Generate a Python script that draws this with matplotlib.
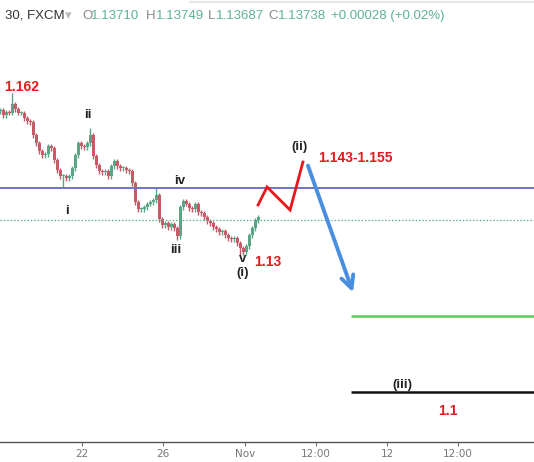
import matplotlib
matplotlib.use("Agg")
import matplotlib.pyplot as plt
import numpy as np

# ---------------- data ----------------
closes = [1.1590, 1.1580, 1.1586, 1.1584, 1.1602, 1.1592, 1.1584, 1.1584, 1.1574, 1.1568,
          1.1566, 1.1540, 1.1524, 1.1508, 1.1500, 1.1502, 1.1518, 1.1514, 1.1490, 1.1470,
          1.1458, 1.1458, 1.1454, 1.1458, 1.1474, 1.1500, 1.1524, 1.1518, 1.1516, 1.1524,
          1.1540, 1.1498, 1.1480, 1.1468, 1.1466, 1.1468, 1.1458, 1.1478, 1.1488, 1.1478,
          1.1474, 1.1474, 1.1470, 1.1468, 1.1444, 1.1406, 1.1392, 1.1392, 1.1396, 1.1402,
          1.1406, 1.1410, 1.1420, 1.1372, 1.1360, 1.1364, 1.1356, 1.1362, 1.1354, 1.1338,
          1.1396, 1.1408, 1.1402, 1.1394, 1.1392, 1.1402, 1.1386, 1.1384, 1.1376, 1.1368,
          1.1364, 1.1356, 1.1352, 1.1346, 1.1348, 1.1340, 1.1334, 1.1332, 1.1334, 1.1324,
          1.1314, 1.1306, 1.1318, 1.1340, 1.1354, 1.1370, 1.1376]
first_open = 1.1588
pivot_wicks = {4: 1.1624, 30: 1.1554, 52: 1.1434, 59: 1.1330, 80: 1.1300, 21: 1.1436}

blue_level = 1.1434
last_price = 1.1370
green_level = 1.1178
black_level = 1.1026

zigzag_x = [12.65, 13.09, 14.22, 14.85]
zigzag_y = [1.1400, 1.1436, 1.1390, 1.1486]
arrow_start = (15.05, 1.1484)
arrow_end = (17.35, 1.1220)
target_start_x = 17.2

tick_pos = [4.02, 7.99, 12.01, 15.49, 18.97, 22.45]
tick_labels = ["22", "26", "Nov", "12:00", "12", "12:00"]

wave_labels = [("1.162", 1.08, 1.1636, "#e3191c"),
               ("ii", 4.31, 1.1580, "#222222"),
               ("i", 3.28, 1.1388, "#222222"),
               ("iv", 8.82, 1.1448, "#222222"),
               ("iii", 8.63, 1.1310, "#222222"),
               ("v", 11.91, 1.1292, "#222222"),
               ("(i)", 11.87, 1.1264, "#222222"),
               ("1.13", 13.14, 1.1286, "#e3191c"),
               ("(ii)", 14.66, 1.1516, "#222222"),
               ("1.143-1.155", 17.4, 1.1494, "#e3191c"),
               ("(iii)", 19.7, 1.1040, "#222222"),
               ("1.1", 21.96, 1.0988, "#e3191c")]

header_parts = [("30, FXCM", 5, "#333333"), ("\u25be", 65, "#bbbbbb"),
                ("O", 82, "#888888"), ("1.13710", 91, "#5bb592"),
                ("H", 146, "#888888"), ("1.13749", 156, "#5bb592"),
                ("L", 208, "#888888"), ("1.13687", 216, "#5bb592"),
                ("C", 268, "#888888"), ("1.13738", 278, "#5bb592"),
                ("+0.00028 (+0.02%)", 331, "#5bb592")]

# ---------------- figure ----------------
W, H = 534, 462
fig = plt.figure(figsize=(W / 100, H / 100), dpi=100)
ax = fig.add_axes([0, 20 / H, 1, 1 - 20 / H])
ax.set_xlim(0, 534 / 20.4)
ax.set_ylim(1.0926, 1.181)

bar_step = 3 / 20.4
body_w = 0.12
up_c, dn_c = "#5aa586", "#c65a67"
opens = [first_open] + closes[:-1]
for i, (o, c) in enumerate(zip(opens, closes)):
    x = i * bar_step + 0.02
    col = up_c if c >= o else dn_c
    lo, hi = min(o, c), max(o, c)
    wlo, whi = lo - 0.0005, hi + 0.0005
    if i in pivot_wicks:
        v = pivot_wicks[i]
        if v > hi:
            whi = v
        else:
            wlo = v
    ax.vlines(x, wlo, whi, color=col, lw=1.0)
    ax.add_patch(plt.Rectangle((x - body_w / 2, lo), body_w, max(hi - lo, 0.00015),
                               color=col, lw=0))

ax.axhline(blue_level, color="#6f73c9", lw=1.4)
ax.axhline(last_price, color="#56b08c", lw=0.9, ls=(0, (1.2, 1.5)))

ax.plot(zigzag_x, zigzag_y, color="#e8161b", lw=2.0, solid_joinstyle="miter")
ax.annotate("", xy=arrow_end, xytext=arrow_start,
            arrowprops=dict(arrowstyle="->,head_length=0.9,head_width=0.45",
                            color="#4a8ee0", lw=2.8))
ax.hlines(green_level, target_start_x, 534 / 20.4, color="#5ccf5c", lw=1.8)
ax.hlines(black_level, target_start_x, 534 / 20.4, color="#111111", lw=1.8)

for txt, x, y, col in wave_labels:
    ax.text(x, y, txt, color=col, fontsize=10 if col != "#222222" else 9.5,
            fontweight="bold", ha="center", va="center", family="Liberation Sans")

# axes styling
for s in ["top", "left", "right"]:
    ax.spines[s].set_visible(False)
ax.spines["bottom"].set_color("#555555")
ax.spines["bottom"].set_linewidth(1.0)
ax.set_yticks([])
ax.set_xticks(tick_pos)
ax.set_xticklabels(tick_labels)
ax.tick_params(axis="x", length=3, width=0.8, color="#777777", labelcolor="#777777",
               labelsize=7.5, pad=2, direction="out")

# header
for txt, px, col in header_parts:
    fig.text(px / W, 1 - 16 / H, txt, color=col, fontsize=9.5, ha="left", va="center",
             family=["Liberation Sans", "DejaVu Sans"])
fig.add_artist(plt.Line2D([190 / W, 1], [1 - 2 / H, 1 - 2 / H], color="#e6e6e6", lw=1.5))

fig.savefig("out.png", dpi=100)
